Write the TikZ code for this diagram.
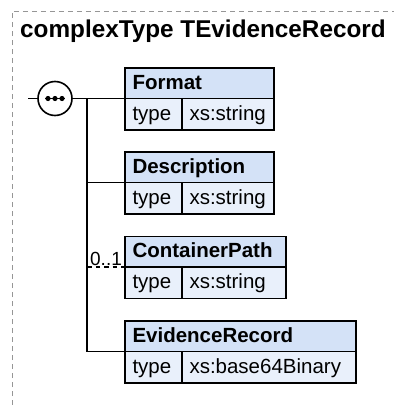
\documentclass[tikz,border=0pt]{standalone}
\usepackage{fontspec}
\setmainfont{Liberation Sans}
\definecolor{hdrfill}{RGB}{212,226,247}
\definecolor{rowfill}{RGB}{233,240,251}
\definecolor{bordergray}{RGB}{150,150,150}
\begin{document}
\begin{tikzpicture}[x=1pt,y=-1pt,
  cell/.style={draw=black, line width=1.6pt, anchor=north west, inner xsep=7.5pt, inner ysep=0pt, outer sep=0pt,
    align=left, text height=14pt, text depth=2pt, font=\fontsize{20.5}{24}\selectfont},
  hdr/.style={cell, fill=hdrfill, minimum height=30.5pt, font=\fontsize{20.5}{24}\selectfont\bfseries},
  rowc/.style={cell, fill=rowfill, minimum height=31.5pt},
  conn/.style={line width=1.5pt, draw=black},
  seqsym/.style={circle, draw=black, line width=1.6pt, fill=white, minimum size=34pt, inner sep=0pt, outer sep=0pt},
  frame/.style={draw=bordergray, line width=1pt, dash pattern=on 5pt off 4pt},
]
\useasboundingbox (0,0) rectangle (394,405);
\draw[frame] (12,405) -- (12,11) -- (394,11);
\node[anchor=base west, inner sep=0pt, font=\fontsize{24.3}{28}\selectfont\bfseries] (title) at (20,37) {complexType TEvidenceRecord};

% sequence compositor
\node[seqsym] (seq) at (55,98.5) {};
\coordinate (stub) at (28,98.5);
\coordinate (jn) at (87,98.5);

% boxes
\node[hdr, text width=134pt] (fmth) at (125,68) {Format};
\node[rowc, text width=42pt] (fmtt) at (125,98.5) {type};
\node[rowc, text width=77pt] (fmtv) at (182,98.5) {xs:string};

\node[hdr, text width=134pt] (desch) at (125,152) {Description};
\node[rowc, text width=42pt] (desct) at (125,182.5) {type};
\node[rowc, text width=77pt] (descv) at (182,182.5) {xs:string};

\node[hdr, text width=146pt] (cph) at (125,236.5) {ContainerPath};
\node[rowc, text width=42pt] (cpt) at (125,267) {type};
\node[rowc, text width=89pt] (cpv) at (182,267) {xs:string};

\node[hdr, text width=216pt] (erh) at (125,321) {EvidenceRecord};
\node[rowc, text width=42pt] (ert) at (125,351.5) {type};
\node[rowc, text width=159pt] (erv) at (182,351.5) {xs:base64Binary};

% connectors
\draw[conn] (stub) -- (seq.west);
\draw[conn] (seq.east) -- (fmth.south west);
\draw[conn] (jn) |- (erh.south west);
\draw[conn] (jn |- desch.south west) -- (desch.south west);
\draw[conn, dash pattern=on 4.5pt off 4pt] (jn |- cph.south west) -- node[above, inner sep=1pt, font=\fontsize{19}{22}\selectfont] (occ) {0..1} (cph.south west);

% sequence dots
\draw[line width=1.4pt] (45,98.5) -- (65,98.5);
\fill (48,98.5) circle (2.6pt);
\fill (55,98.5) circle (2.6pt);
\fill (62,98.5) circle (2.6pt);
\end{tikzpicture}
\end{document}
